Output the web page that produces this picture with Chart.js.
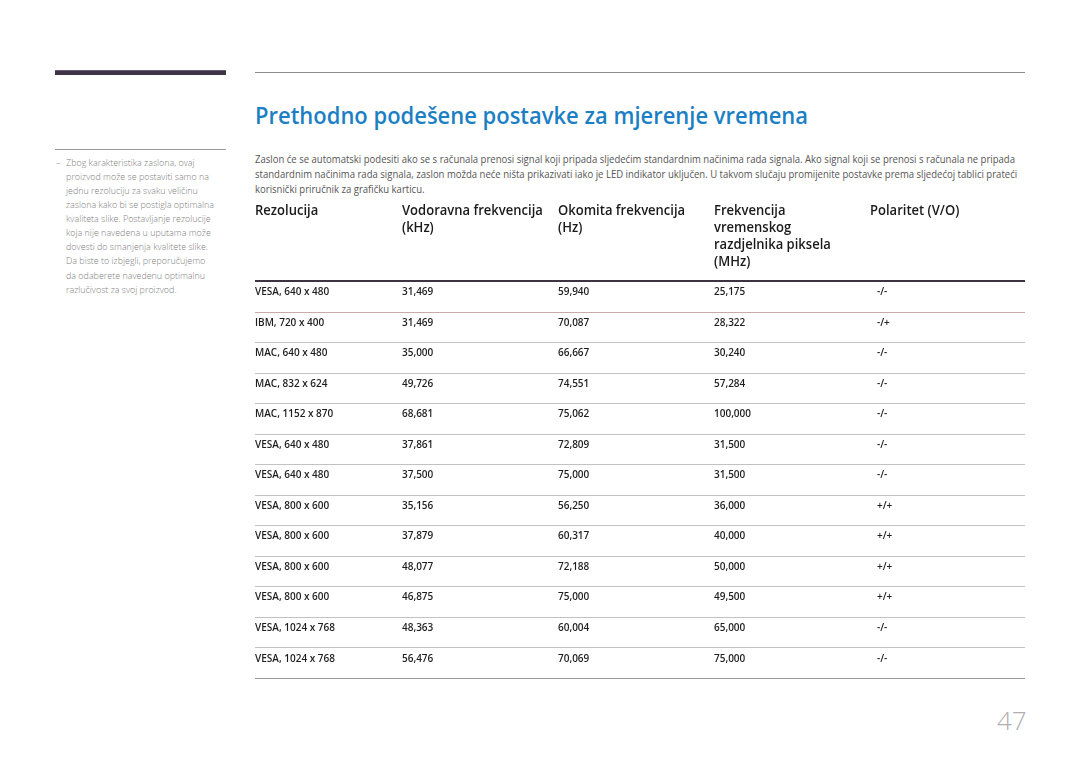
<!DOCTYPE html>
<html>
<head>
<meta charset="utf-8">
<script src="https://cdn.jsdelivr.net/npm/chart.js@4.4.1/dist/chart.umd.min.js"></script>
<style>
  body { margin: 0; width: 1080px; height: 763px; background: #fff; position: relative; overflow: hidden; font-family: "Open Sans", sans-serif; }
  #table { position: absolute; left: 0; top: 0; }
  .t { position: absolute; white-space: nowrap; transform-origin: left center; }
  .side { left: 66px; font-size: 9.5px; font-weight: 300; color: #808080; line-height: 14px; height: 14px; }
  .para { left: 255px; font-size: 10.8px; font-weight: 400; color: #555; line-height: 15px; height: 15px; }
  .rule { position: absolute; }
</style>
</head>
<body>
<div class="rule" style="left:55px;top:70px;width:171px;height:4px;background:#3d3546;border-top:1px solid #6a5a7a;"></div>
<div class="rule" style="left:255px;top:72px;width:770px;height:1px;background:#8c8c8c;"></div>
<div class="rule" style="left:55px;top:149px;width:171px;height:1px;background:#9a9a9a;"></div>

<div class="t" id="title" style="left:255px;top:99px;font-size:24px;font-weight:600;color:#1c7fc4;line-height:32px;">Prethodno podešene postavke za mjerenje vremena</div>

<div class="t para" style="top:151px" data-w="760" data-g="p">Zaslon će se automatski podesiti ako se s računala prenosi signal koji pripada sljedećim standardnim načinima rada signala. Ako signal koji se prenosi s računala ne pripada</div>
<div class="t para" style="top:166px" data-g="p">standardnim načinima rada signala, zaslon možda neće ništa prikazivati iako je LED indikator uključen. U takvom slučaju promijenite postavke prema sljedećoj tablici prateći</div>
<div class="t para" style="top:181px" data-g="p">korisnički priručnik za grafičku karticu.</div>

<div class="t side" style="left:56px;top:156px" data-g="s">–</div>
<div class="t side" style="top:156px" data-g="s">Zbog karakteristika zaslona, ovaj</div>
<div class="t side" style="top:170px" data-g="s">proizvod može se postaviti samo na</div>
<div class="t side" style="top:184px" data-g="s">jednu rezoluciju za svaku veličinu</div>
<div class="t side" style="top:198px" data-w="148" data-g="s">zaslona kako bi se postigla optimalna</div>
<div class="t side" style="top:212px" data-g="s">kvaliteta slike. Postavljanje rezolucije</div>
<div class="t side" style="top:226px" data-g="s">koja nije navedena u uputama može</div>
<div class="t side" style="top:240px" data-g="s">dovesti do smanjenja kvalitete slike.</div>
<div class="t side" style="top:254px" data-g="s">Da biste to izbjegli, preporučujemo</div>
<div class="t side" style="top:269px" data-g="s">da odaberete navedenu optimalnu</div>
<div class="t side" style="top:283px" data-g="s">razlučivost za svoj proizvod.</div>

<div class="t" style="left:997px;top:703px;font-size:26px;font-weight:300;color:#b0b0b0;line-height:34px;">47</div>

<canvas id="table" width="1080" height="763"></canvas>

<script>
// table data
const resolutions = ['VESA, 640 x 480', 'IBM, 720 x 400', 'MAC, 640 x 480', 'MAC, 832 x 624', 'MAC, 1152 x 870',
  'VESA, 640 x 480', 'VESA, 640 x 480', 'VESA, 800 x 600', 'VESA, 800 x 600', 'VESA, 800 x 600',
  'VESA, 800 x 600', 'VESA, 1024 x 768', 'VESA, 1024 x 768'];
const horizFreq = ['31,469', '31,469', '35,000', '49,726', '68,681', '37,861', '37,500', '35,156', '37,879', '48,077', '46,875', '48,363', '56,476'];
const vertFreq = ['59,940', '70,087', '66,667', '74,551', '75,062', '72,809', '75,000', '56,250', '60,317', '72,188', '75,000', '60,004', '70,069'];
const pixelClock = ['25,175', '28,322', '30,240', '57,284', '100,000', '31,500', '31,500', '36,000', '40,000', '50,000', '49,500', '65,000', '75,000'];
const polarity = ['-/-', '-/+', '-/-', '-/-', '-/-', '-/-', '-/-', '+/+', '+/+', '+/+', '+/+', '-/-', '-/-'];
const headers = [
  ['Rezolucija'],
  ['Vodoravna frekvencija', '(kHz)'],
  ['Okomita frekvencija', '(Hz)'],
  ['Frekvencija', 'vremenskog', 'razdjelnika piksela', '(MHz)'],
  ['Polaritet (V/O)']
];
// column start, in table units (0..770)
const colStart = [0, 147, 303, 459, 615];
const cellStart = [0, 147, 303, 459, 622];

// squeeze html lines to the page widths
['p', 's'].forEach(function (g) {
  const els = document.querySelectorAll('[data-g="' + g + '"]');
  let k = 1;
  els.forEach(function (el) { if (el.dataset.w) k = el.dataset.w / el.getBoundingClientRect().width; });
  els.forEach(function (el) { el.style.transform = 'scaleX(' + k + ')'; });
});
const title = document.getElementById('title');
title.style.transform = 'scaleX(' + (553 / title.getBoundingClientRect().width) + ')';

const columns = [resolutions, horizFreq, vertFreq, pixelClock, polarity];

const tablePlugin = {
  id: 'tableText',
  afterDatasetsDraw(chart) {
    const ctx = chart.ctx;
    const area = chart.chartArea;
    const x = chart.scales.x;
    const y = chart.scales.y;
    const band = y.getPixelForValue(1) - y.getPixelForValue(0);
    const top = y.getPixelForValue(0) - band / 2;
    ctx.save();
    // row lines
    for (let i = 0; i <= resolutions.length; i++) {
      const yy = Math.round(top + i * band);
      ctx.beginPath();
      if (i == 0) {
        ctx.strokeStyle = '#3a3540';
        ctx.lineWidth = 2;
        ctx.moveTo(area.left, yy);
      } else {
        ctx.strokeStyle = i == 1 ? '#c9aaaa' : (i == resolutions.length ? '#9a9a9a' : '#c2c2c2');
        ctx.lineWidth = 1;
        ctx.moveTo(area.left, yy + 0.5);
      }
      ctx.lineTo(area.right, i == 0 ? yy : yy + 0.5);
      ctx.stroke();
    }
    // headers
    ctx.fillStyle = '#1a1a1a';
    ctx.textBaseline = 'middle';
    ctx.font = '600 13.5px "Open Sans"';
    headers.forEach(function (lines, c) {
      lines.forEach(function (t, k) {
        ctx.save();
        ctx.translate(x.getPixelForValue(colStart[c]), area.top - 70 + k * 17);
        ctx.scale(0.965, 1);
        ctx.fillText(t, 0, 0);
        ctx.restore();
      });
    });
    // cells
    ctx.font = '600 10px "Open Sans"';
    ctx.fillStyle = '#1e1e1e';
    chart.data.datasets.forEach(function (ds, c) {
      chart.getDatasetMeta(c).data.forEach(function (pt, i) {
        ctx.fillText(ds.cells[i], pt.x, pt.y - 4);
      });
    });
    ctx.restore();
  }
};

const ctx = document.getElementById('table').getContext('2d');
const table = new Chart(ctx, {
  type: 'scatter',
  data: {
    datasets: columns.map(function (col, c) {
      return {
        cells: col,
        data: col.map(function (v, i) { return { x: cellStart[c], y: resolutions[i] }; }),
        pointRadius: 0,
        showLine: false
      };
    })
  },
  options: {
    responsive: false,
    animation: false,
    events: [],
    layout: { padding: { left: 255, top: 281, right: 55, bottom: 85 } },
    plugins: { legend: { display: false }, tooltip: { enabled: false } },
    scales: {
      x: { type: 'linear', min: 0, max: 770, display: false },
      y: { type: 'category', labels: resolutions, offset: true, display: false }
    }
  },
  plugins: [tablePlugin]
});
</script>
</body>
</html>
